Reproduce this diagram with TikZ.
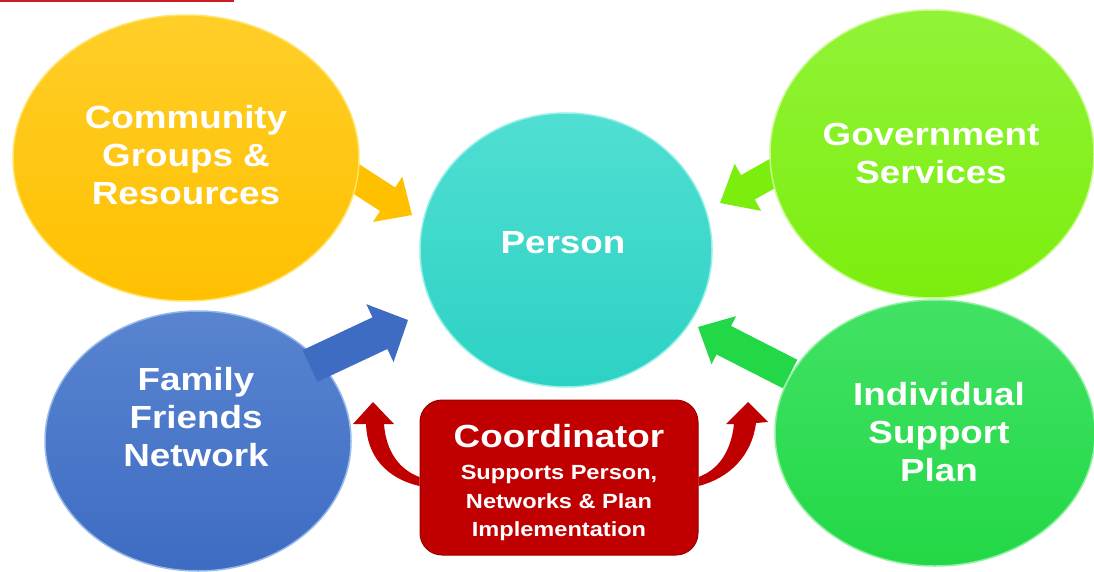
\documentclass[tikz,border=0pt]{standalone}
\usepackage{fontspec}
\setmainfont[FakeStretch=1.15]{Liberation Sans}
\usetikzlibrary{shapes.geometric,calc}
\definecolor{cyel}{RGB}{255,192,0}
\definecolor{cyelT}{RGB}{255,206,40}
\definecolor{cyelR}{RGB}{255,228,110}
\definecolor{cteal}{RGB}{44,210,196}
\definecolor{ctealT}{RGB}{80,222,210}
\definecolor{ctealR}{RGB}{150,240,232}
\definecolor{clime}{RGB}{124,238,14}
\definecolor{climeT}{RGB}{145,243,55}
\definecolor{climeR}{RGB}{200,250,140}
\definecolor{cgrn}{RGB}{34,216,70}
\definecolor{cgrnT}{RGB}{66,226,100}
\definecolor{cgrnR}{RGB}{140,240,160}
\definecolor{cblu}{RGB}{62,108,194}
\definecolor{cbluT}{RGB}{88,132,208}
\definecolor{cbluR}{RGB}{150,185,235}
\definecolor{cred}{RGB}{192,0,0}
\definecolor{credD}{RGB}{150,0,0}
\definecolor{cline}{RGB}{200,30,35}
\tikzset{
  bubble/.style={ellipse, inner sep=0pt},
  lbl/.style={text=white, align=center, font=\bfseries\fontsize{32}{38}\selectfont},
  sublbl/.style={text=white, align=center, font=\bfseries\fontsize{20.5}{28.5}\selectfont},
}
\newcommand{\blockarr}[6]{%
  \coordinate (hb) at ($(#2)!#5!(#1)$);
  \fill[#6] ($(#1)!#3!90:(#2)$) -- ($(hb)!#3!90:(#2)$) -- ($(hb)!#4!90:(#2)$) -- (#2)
    -- ($(hb)!#4!-90:(#2)$) -- ($(hb)!#3!-90:(#2)$) -- ($(#1)!#3!-90:(#2)$) -- cycle;
}
\begin{document}
\begin{tikzpicture}[x=1pt,y=-1pt]
\useasboundingbox (0,0) rectangle (1094,572);
\fill[white] (0,0) rectangle (1094,572);
\fill[cline] (0,0) rectangle (234,2);

% arrows running under circles
\coordinate (yT) at (330,162);
\coordinate (yP) at (412,215);
\coordinate (gT) at (800,158);
\coordinate (gP) at (720,203);
\blockarr{yT}{yP}{14pt}{27pt}{29pt}{cyel}
\blockarr{gT}{gP}{14pt}{27pt}{32pt}{clime}

% circles
\node[bubble, minimum width=346, minimum height=286, top color=cyelT, bottom color=cyel, draw=cyelR, line width=1.5pt] (comm) at (186,158) {};
\node[bubble, minimum width=324, minimum height=288, top color=climeT, bottom color=clime, draw=climeR, line width=1.5pt] (gov) at (932,154) {};
\node[bubble, minimum width=292, minimum height=274, top color=ctealT, bottom color=cteal, draw=ctealR, line width=1.5pt] (person) at (566,250) {};
\node[bubble, minimum width=306, minimum height=260, top color=cbluT, bottom color=cblu, draw=cbluR, line width=1.5pt] (fam) at (198,441) {};
\node[bubble, minimum width=320, minimum height=266, top color=cgrnT, bottom color=cgrn, draw=cgrnR, line width=1.5pt] (isp) at (935,433) {};

% arrows on top of circles
\coordinate (bT) at (310,366);
\coordinate (bP) at (408,320);
\coordinate (sT) at (790,374);
\coordinate (sP) at (698,327);
\blockarr{bT}{bP}{17.5pt}{32pt}{31pt}{cblu}
\blockarr{sT}{sP}{16pt}{27pt}{29pt}{cgrn}

% labels
\node[lbl] (commtxt) at (186,155) {Community\\Groups \&\\Resources};
\node[lbl] (govtxt) at (931,153) {Government\\Services};
\node[lbl] (pertxt) at (563,243) {Person};
\node[lbl] (famtxt) at (196,417) {Family\\Friends\\Network};
\node[lbl] (isptxt) at (939,432) {Individual\\Support\\Plan};

% coordinator box
\node[draw=credD, line width=1pt, fill=cred, rounded corners=22pt, minimum width=278, minimum height=155, inner sep=0pt] (coord) at (559,477.5) {};
\node[lbl] (coordtxt) at (559,436) {Coordinator};
\node[sublbl] (coordsub) at (559,503) {Supports Person,\\Networks \& Plan\\Implementation};

% red curved arrows
\fill[cred] (coord.west |- 0,486) .. controls (385,478) and (367,455) .. (366,424)
  -- (353,424) -- (373,402) -- (394,424) -- (384,424)
  .. controls (386,452) and (400,470) .. (coord.west |- 0,477) -- cycle;
\fill[cred] (coord.east |- 0,477) .. controls (718,470) and (731,452) .. (734,424)
  -- (726,424) -- (748,402) -- (768,422) -- (756,423)
  .. controls (752,455) and (730,478) .. (coord.east |- 0,486) -- cycle;
\end{tikzpicture}
\end{document}
